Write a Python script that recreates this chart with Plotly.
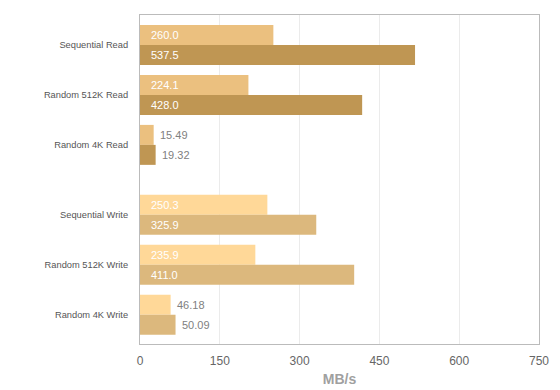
import plotly.graph_objects as go

# Data
categories = ["Sequential Read", "Random 512K Read", "Random 4K Read",
              "Sequential Write", "Random 512K Write", "Random 4K Write"]
# bar lengths as drawn (MB/s on the axis)
bar_a = [250.7, 203.8, 25.7, 239.4, 216.8, 57.6]
bar_b = [517.0, 417.6, 29.4, 331.3, 402.6, 66.8]
# printed value labels
label_a = ["260.0", "224.1", "15.49", "250.3", "235.9", "46.18"]
label_b = ["537.5", "428.0", "19.32", "325.9", "411.0", "50.09"]
x_ticks = [0, 150, 300, 450, 600, 750]

# Styling
read_colors = ("#EBC07F", "#BF9653")
write_colors = ("#FFD898", "#DCB87D")
is_write = ["Write" in c for c in categories]
ypos = [i + (0.4 if w else 0) for i, w in enumerate(is_write)]
colors_a = [write_colors[0] if w else read_colors[0] for w in is_write]
colors_b = [write_colors[1] if w else read_colors[1] for w in is_write]

fig = go.Figure()
fig.add_trace(go.Bar(y=ypos, x=bar_a, orientation="h", marker=dict(color=colors_a, line=dict(width=0)),
                     hoverinfo="skip"))
fig.add_trace(go.Bar(y=ypos, x=bar_b, orientation="h", marker=dict(color=colors_b, line=dict(width=0)),
                     hoverinfo="skip"))

font_family = "Liberation Sans, Arial, sans-serif"
annotations = []
for vals, labels, off in ((bar_a, label_a, -0.2), (bar_b, label_b, 0.2)):
    for v, lab, y in zip(vals, labels, ypos):
        if v > 100:
            annotations.append(dict(x=0, y=y + off, xref="x", yref="y", text=lab, showarrow=False,
                                    xanchor="left", yanchor="middle", xshift=9,
                                    font=dict(family=font_family, size=11, color="white")))
        else:
            annotations.append(dict(x=v, y=y + off, xref="x", yref="y", text=lab, showarrow=False,
                                    xanchor="left", yanchor="middle", xshift=4,
                                    font=dict(family=font_family, size=11, color="#808080")))

# page body has an 8px margin, so the figure is sized to fit the 560x390 window
fig.update_layout(
    width=552, height=382,
    margin=dict(l=132, r=21, t=7, b=46, autoexpand=False),
    barmode="group", bargap=0.2, bargroupgap=0,
    plot_bgcolor="white", paper_bgcolor="white",
    showlegend=False,
    font=dict(family=font_family),
    annotations=annotations,
    xaxis=dict(range=[0, 750], tickvals=x_ticks, ticktext=[str(t) for t in x_ticks],
               automargin=False,
               showgrid=True, gridcolor="#EBEBEB", gridwidth=1,
               showline=True, linecolor="#BBBBBB", linewidth=1, mirror=True,
               zeroline=False, ticks="outside", ticklen=6, tickcolor="rgba(0,0,0,0)",
               tickfont=dict(size=12, color="#666666"),
               title=dict(text="<b>MB/s</b>", font=dict(size=14, color="#A0A0A0"), standoff=6)),
    yaxis=dict(range=[5.986, -0.6], tickvals=ypos, ticktext=categories,
               automargin=False,
               showgrid=False, showline=True, linecolor="#BBBBBB", linewidth=1, mirror=True,
               zeroline=False, ticks="outside", ticklen=9, tickcolor="rgba(0,0,0,0)",
               tickfont=dict(size=9.3, color="#555555")),
)

fig.write_html("out.html")
